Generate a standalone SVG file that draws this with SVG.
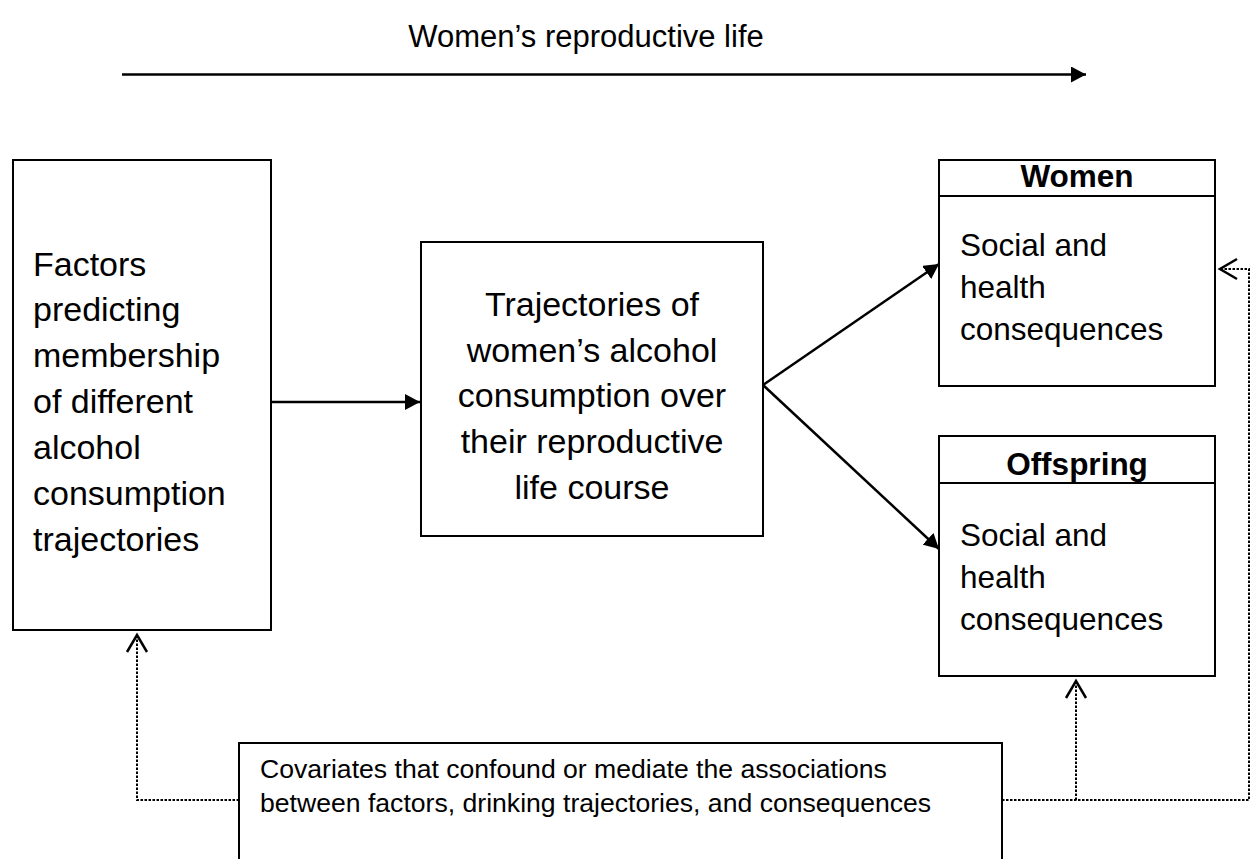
<svg xmlns="http://www.w3.org/2000/svg" width="1253" height="859" viewBox="0 0 1253 859">
<style>
text{font-family:"Liberation Sans",Arial,sans-serif;fill:#000}
.box{fill:#fff;stroke:#000;stroke-width:2}
.big{font-size:34px}
.mid{font-size:31.5px}
.hdr{font-size:31.5px;font-weight:bold}
.small{font-size:26.6px}
.solid{fill:none;stroke:#000;stroke-width:2.5}
.dot{fill:none;stroke:#000;stroke-width:2;stroke-dasharray:2.5 1.5}
.chev{fill:none;stroke:#000;stroke-width:2.5}
</style>
<defs>
<marker id="tri" viewBox="0 0 15 16" refX="15" refY="8" markerWidth="15" markerHeight="16" markerUnits="userSpaceOnUse" orient="auto">
<path d="M0,0 L15,8 L0,16 Z" fill="#000"/>
</marker>
</defs>
<g id="title">
<text x="586" y="47" text-anchor="middle" style="font-size:31px">Women’s reproductive life</text>
</g>
<g id="factors">
<rect class="box" x="13" y="160" width="258" height="470"/>
<text class="big" x="33" y="275.5">Factors</text>
<text class="big" x="33" y="321.4">predicting</text>
<text class="big" x="33" y="367.3">membership</text>
<text class="big" x="33" y="413.2">of different</text>
<text class="big" x="33" y="459.1">alcohol</text>
<text class="big" x="33" y="505">consumption</text>
<text class="big" x="33" y="550.9">trajectories</text>
</g>
<g id="trajectories">
<rect class="box" x="421" y="242" width="342" height="294"/>
<g text-anchor="middle">
<text class="big" x="592" y="316">Trajectories of</text>
<text class="big" x="592" y="361.7">women’s alcohol</text>
<text class="big" x="592" y="407.4">consumption over</text>
<text class="big" x="592" y="453.1">their reproductive</text>
<text class="big" x="592" y="498.8">life course</text>
</g>
</g>
<g id="women">
<rect class="box" x="939" y="160" width="276" height="226"/>
<line x1="939" y1="196" x2="1215" y2="196" stroke="#000" stroke-width="2"/>
<text class="hdr" x="1077" y="187" text-anchor="middle">Women</text>
<text class="mid" x="960" y="256">Social and</text>
<text class="mid" x="960" y="298">health</text>
<text class="mid" x="960" y="340">consequences</text>
</g>
<g id="offspring">
<rect class="box" x="939" y="436" width="276" height="240"/>
<line x1="939" y1="483" x2="1215" y2="483" stroke="#000" stroke-width="2"/>
<text class="hdr" x="1077" y="475" text-anchor="middle">Offspring</text>
<text class="mid" x="960" y="546">Social and</text>
<text class="mid" x="960" y="588">health</text>
<text class="mid" x="960" y="630">consequences</text>
</g>
<g id="covariates">
<rect class="box" x="239" y="743" width="763" height="140"/>
<text class="small" x="260" y="778">Covariates that confound or mediate the associations</text>
<text class="small" x="260" y="812">between factors, drinking trajectories, and consequences</text>
</g>
<g id="connectors">
<line class="solid" x1="122" y1="74.5" x2="1086" y2="74.5" marker-end="url(#tri)"/>
<line class="solid" x1="271" y1="402" x2="420" y2="402" stroke-width="3" marker-end="url(#tri)"/>
<line class="solid" x1="763" y1="385" x2="939" y2="264" marker-end="url(#tri)"/>
<line class="solid" x1="763" y1="385" x2="939" y2="549" marker-end="url(#tri)"/>
<polyline class="dot" points="239,800 137,800 137,636"/>
<polyline class="chev" points="127,652 137,635 147,652"/>
<polyline class="dot" points="1002,800 1249,800 1249,269 1222,269"/>
<polyline class="chev" points="1237,259 1220,269 1237,279"/>
<line class="dot" x1="1076" y1="800" x2="1076" y2="682"/>
<polyline class="chev" points="1066,698 1076,681 1086,698"/>
</g>
</svg>
